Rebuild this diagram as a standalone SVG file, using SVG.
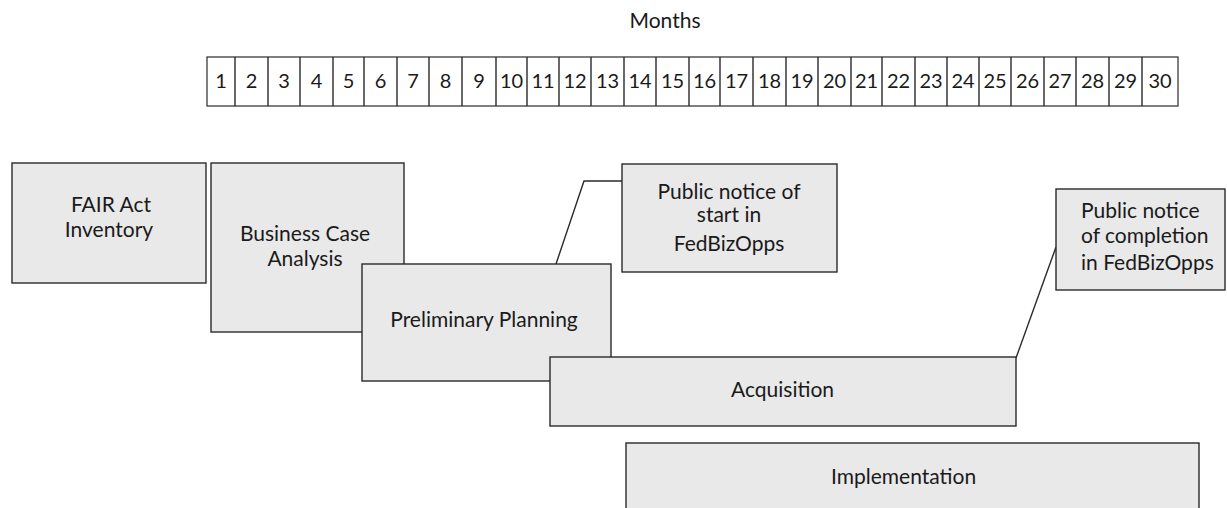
<svg xmlns="http://www.w3.org/2000/svg" width="1227" height="508" viewBox="0 0 1227 508">
<style>
.box{fill:#e9e9e9;stroke:#2a2a2a;stroke-width:1.4}
.cell{fill:#ffffff;stroke:#2a2a2a;stroke-width:1.2}
.t{font-family:Lato,"Open Sans","Noto Sans",sans-serif;font-size:21px;fill:#1a1a1a}
.n{font-size:20px}
.c{text-anchor:middle}
.conn{fill:none;stroke:#2a2a2a;stroke-width:1.4}
</style>
<rect width="1227" height="508" fill="#ffffff"/>
<text class="t c" x="665" y="28">Months</text>
<g id="months">
<rect class="cell" x="207" y="57" width="971" height="49"/>
<path class="conn" stroke-width="1.2" d="M235,57V106M268,57V106M300,57V106M333,57V106M364,57V106M397,57V106M429,57V106M462,57V106M496,57V106M527,57V106M559,57V106M591,57V106M624,57V106M656,57V106M689,57V106M720,57V106M753,57V106M786,57V106M818,57V106M851,57V106M882,57V106M915,57V106M947,57V106M979,57V106M1011,57V106M1044,57V106M1076,57V106M1109,57V106M1142,57V106"/>
<g class="t n c">
<text x="221" y="88">1</text><text x="251.5" y="88">2</text><text x="284" y="88">3</text><text x="316.5" y="88">4</text><text x="348.5" y="88">5</text><text x="380.5" y="88">6</text><text x="413" y="88">7</text><text x="445.5" y="88">8</text><text x="479" y="88">9</text><text x="511.5" y="88">10</text><text x="543" y="88">11</text><text x="575" y="88">12</text><text x="607.5" y="88">13</text><text x="640" y="88">14</text><text x="672.5" y="88">15</text><text x="704.5" y="88">16</text><text x="736.5" y="88">17</text><text x="769.5" y="88">18</text><text x="802" y="88">19</text><text x="834.5" y="88">20</text><text x="866.5" y="88">21</text><text x="898.5" y="88">22</text><text x="931" y="88">23</text><text x="963" y="88">24</text><text x="995" y="88">25</text><text x="1027.5" y="88">26</text><text x="1060" y="88">27</text><text x="1092.5" y="88">28</text><text x="1125.5" y="88">29</text><text x="1160" y="88">30</text>
</g>
</g>
<g id="connectors">
<path class="conn" d="M556,264L584,181H622"/>
<path class="conn" d="M1016,358L1056,247"/>
</g>
<g id="fair">
<rect class="box" x="12" y="163" width="194" height="120"/>
<text class="t c" x="111" y="212">FAIR Act</text>
<text class="t c" x="109" y="237">Inventory</text>
</g>
<g id="business">
<rect class="box" x="211" y="163" width="193" height="169"/>
<text class="t c" x="305" y="241">Business Case</text>
<text class="t c" x="305" y="266">Analysis</text>
</g>
<g id="preliminary">
<rect class="box" x="362" y="264" width="249" height="117"/>
<text class="t c" x="484" y="327">Preliminary Planning</text>
</g>
<g id="acquisition">
<rect class="box" x="550" y="357" width="466" height="69"/>
<text class="t" x="731" y="397">Acquisition</text>
</g>
<g id="implementation">
<rect class="box" x="626" y="443" width="573" height="80"/>
<text class="t" x="831" y="484">Implementation</text>
</g>
<g id="notice-start">
<rect class="box" x="622" y="164" width="215" height="108"/>
<text class="t c" x="729" y="199">Public notice of</text>
<text class="t c" x="729" y="222">start in</text>
<text class="t c" x="729" y="251">FedBizOpps</text>
</g>
<g id="notice-completion">
<rect class="box" x="1056" y="189" width="169" height="101"/>
<text class="t" x="1081" y="218">Public notice</text>
<text class="t" x="1081" y="243">of completion</text>
<text class="t" x="1081" y="270">in FedBizOpps</text>
</g>
</svg>
